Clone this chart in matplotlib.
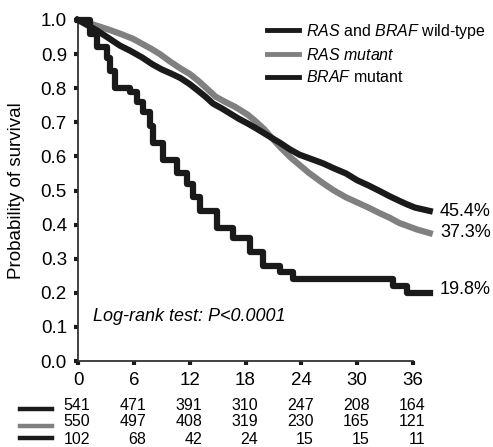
import matplotlib
matplotlib.use('Agg')
import matplotlib.pyplot as plt
from matplotlib.lines import Line2D

plt.rcParams['font.family'] = ['Liberation Sans', 'DejaVu Sans']
plt.rcParams['mathtext.fontset'] = 'custom'
plt.rcParams['mathtext.rm'] = 'Liberation Sans'
plt.rcParams['mathtext.it'] = 'Liberation Sans:italic'

# survival curves (months, probability)
wt_t = [0, 1.0, 2.0, 3.4, 4.5, 5.6, 6.9, 8.0, 9.0, 10.0, 11.0, 12.0, 12.8, 13.7, 14.5,
        15.5, 16.4, 17.3, 18.2, 19.1, 20.0, 20.9, 21.7, 22.8, 23.8, 24.8, 26.3, 27.5,
        28.8, 30.0, 31.2, 32.3, 33.5, 34.5, 35.3, 36.2, 37.0, 37.8]
wt_s = [1.0, 0.985, 0.97, 0.945, 0.925, 0.91, 0.89, 0.87, 0.855, 0.843, 0.83, 0.812,
        0.795, 0.775, 0.755, 0.74, 0.725, 0.71, 0.697, 0.683, 0.668, 0.653, 0.64, 0.62,
        0.605, 0.595, 0.58, 0.565, 0.55, 0.53, 0.515, 0.50, 0.483, 0.47, 0.46, 0.45,
        0.445, 0.44]

ras_t = [0, 1.2, 2.4, 3.5, 4.7, 5.9, 6.9, 7.9, 8.8, 9.8, 11.0, 12.0, 13.0, 14.0, 14.8,
         15.8, 16.9, 18.2, 19.0, 20.0, 20.8, 21.7, 22.8, 23.8, 24.8, 26.3, 27.5, 28.8,
         30.0, 31.2, 32.3, 33.5, 34.5, 35.5, 36.5, 37.8]
ras_s = [1.0, 0.99, 0.98, 0.97, 0.958, 0.945, 0.93, 0.915, 0.90, 0.88, 0.858, 0.842,
         0.82, 0.795, 0.775, 0.76, 0.745, 0.723, 0.705, 0.68, 0.655, 0.628, 0.598, 0.575,
         0.552, 0.522, 0.50, 0.48, 0.465, 0.45, 0.435, 0.42, 0.405, 0.395, 0.385, 0.375]

braf_t = [0, 1.3, 2.0, 3.1, 3.4, 4.0, 5.6, 6.3, 7.0, 7.7, 8.1, 9.1, 10.6, 11.7, 12.4,
          13.1, 14.9, 16.7, 18.5, 19.9, 21.7, 23.1, 33.9, 35.4, 37.8]
braf_s = [1.0, 0.96, 0.92, 0.89, 0.85, 0.80, 0.79, 0.76, 0.73, 0.69, 0.64, 0.59, 0.55,
          0.52, 0.48, 0.44, 0.39, 0.36, 0.32, 0.28, 0.26, 0.24, 0.22, 0.20, 0.20]

labels = [r'$\it{RAS}$ and $\it{BRAF}$ wild-type', r'$\it{RAS\ mutant}$',
          r'$\it{BRAF}$ mutant']
colors = ['#1a1a1a', '#808080', '#1a1a1a']
end_labels = ['45.4%', '37.3%', '19.8%']
end_y = [0.438, 0.376, 0.209]

risk_times = [0, 6, 12, 18, 24, 30, 36]
risk_wt = [541, 471, 391, 310, 247, 208, 164]
risk_ras = [550, 497, 408, 319, 230, 165, 121]
risk_braf = [102, 68, 42, 24, 15, 15, 11]

fig = plt.figure(figsize=(4.93, 4.47), dpi=100)
ax = fig.add_axes([78 / 493, 1 - 361 / 447, 335 / 493, 341 / 447])

# the two big groups have many small steps: a plain line looks closest
ax.plot(ras_t, ras_s, color=colors[1], lw=4.5, clip_on=False, zorder=2)
ax.plot(wt_t, wt_s, color=colors[0], lw=4.5, clip_on=False, zorder=3)
ax.plot(braf_t, braf_s, drawstyle='steps-post', color=colors[2], lw=4.5,
        clip_on=False, zorder=3)

ax.set_xlim(0, 36)
ax.set_ylim(0, 1.0)
ax.set_xticks(risk_times)
ax.set_yticks([i / 10 for i in range(11)])
ax.set_yticklabels(['%.1f' % (i / 10) for i in range(11)])
ax.tick_params(axis='both', labelsize=13.5, length=3, width=3, color='#1a1a1a')
ax.tick_params(axis='x', pad=5)
ax.tick_params(axis='y', pad=5)
for side in ['top', 'right']:
    ax.spines[side].set_visible(False)
for side in ['left', 'bottom']:
    ax.spines[side].set_linewidth(1.3)
    ax.spines[side].set_color('#333333')
ax.set_ylabel('Probability of survival', fontsize=13.5, labelpad=11)

handles = [Line2D([], [], color=c, lw=3.5) for c in colors]
ax.legend(handles, labels, loc='upper left', bbox_to_anchor=(259 / 493, 1 - 14 / 447),
          bbox_transform=fig.transFigure, frameon=False, fontsize=11.5, borderpad=0,
          handlelength=2.0, handletextpad=0.45, labelspacing=0.38)

for lab, y in zip(end_labels, end_y):
    ax.text(38.9, y, lab, fontsize=13, ha='left', va='center', clip_on=False)

ax.text(1.6, 0.13, 'Log-rank test: P<0.0001', fontsize=13, style='italic',
        ha='left', va='center')

# numbers at risk
rows = [risk_wt, risk_ras, risk_braf]
row_y = [406, 422, 439]
line_y = [409, 426, 438]
for vals, ty, ly, c in zip(rows, row_y, line_y, colors):
    fig.add_artist(Line2D([20 / 493, 52 / 493], [1 - ly / 447, 1 - ly / 447],
                          color=c, lw=3.2))
    for t, v in zip(risk_times, vals):
        ax.annotate(str(v), xy=(t, 1 - ty / 447), xycoords=('data', 'figure fraction'),
                    xytext=(9, 0), textcoords='offset points', ha='right',
                    va='center', fontsize=11.5, annotation_clip=False)

fig.savefig('out.png', dpi=100)
